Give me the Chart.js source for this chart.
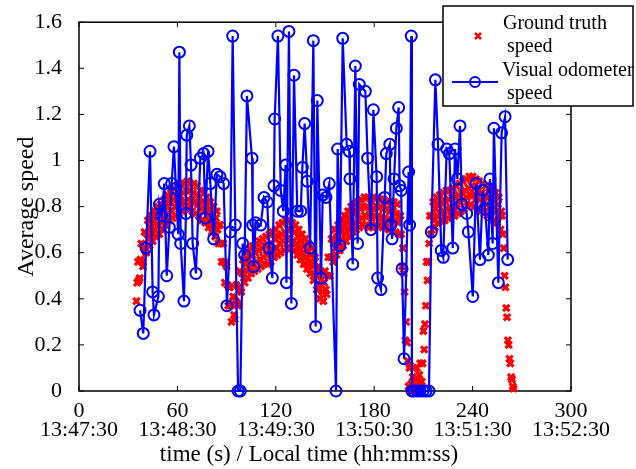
<!DOCTYPE html>
<html>
<head>
<meta charset="utf-8">
<title>Average speed</title>
<script src="https://cdn.jsdelivr.net/npm/chart.js@4.4.1/dist/chart.umd.min.js"></script>
<style>
  body { margin: 0; background: #fff; }
  canvas { display: block; }
</style>
</head>
<body>
<canvas id="speed-chart" width="636" height="469"></canvas>
<script>
// axis ticks
const xTicks = [0, 60, 120, 180, 240, 300];
const xClock = ["13:47:30", "13:48:30", "13:49:30", "13:50:30", "13:51:30", "13:52:30"];
const yTicks = [0, 0.2, 0.4, 0.6, 0.8, 1, 1.2, 1.4, 1.6];

// visual odometer speed (blue, circles)
const odoTime = [37.2, 39.2, 40.9, 43.3, 44.9, 45.7, 48.4, 49.0, 50.4, 52.0,
  53.5, 55.1, 56.5, 57.9, 59.1, 60.5, 61.2, 62.0, 64.0, 65.2,
  65.7, 67.3, 68.3, 69.3, 71.3, 74.0, 76.0, 77.0, 78.7, 80.1,
  82.1, 84.1, 86.0, 88.2, 90.2, 92.3, 93.7, 95.3, 97.0, 98.4,
  99.8, 101.0, 102.4, 105.5, 105.9, 106.5, 107.7, 110.8, 112.8, 114.8,
  115.9, 117.9, 118.9, 119.3, 121.3, 123.0, 124.6, 126.0, 126.5, 128.0,
  129.5, 131.1, 133.1, 135.2, 136.2, 137.6, 139.2, 140.9, 142.9, 144.3,
  145.3, 147.6, 148.6, 150.6, 152.6, 156.7, 157.7, 159.1, 160.8, 163.2,
  164.8, 165.2, 166.9, 168.5, 169.9, 170.9, 174.6, 176.0, 178.0, 179.5,
  181.5, 182.1, 184.1, 186.4, 187.4, 189.5, 190.1, 190.9, 192.1, 193.5,
  194.9, 195.5, 196.5, 197.0, 198.2, 201.0, 201.6, 202.6, 203.0, 204.3,
  206.1, 207.9, 209.8, 211.6, 213.4, 214.8, 217.3, 218.9, 220.9, 222.1,
  224.2, 225.8, 227.9, 229.3, 230.7, 232.3, 233.4, 236.4, 237.4, 240.1,
  242.1, 244.5, 246.2, 247.6, 249.6, 250.6, 252.2, 253.0, 255.7, 257.7,
  259.8, 261.4];
const odoSpeed = [0.35, 0.25, 0.62, 1.04, 0.43, 0.33, 0.41, 0.81, 0.76, 0.90,
  0.50, 0.71, 0.90, 1.06, 0.88, 0.68, 1.47, 0.64, 0.39, 0.77,
  1.11, 1.15, 0.98, 0.64, 0.51, 1.01, 1.03, 0.75, 1.04, 0.90,
  0.66, 0.94, 0.93, 0.90, 0.37, 0.69, 1.54, 0.72, 0, 0,
  0.64, 0.59, 1.28, 1.01, 0.72, 0.54, 0.73, 0.72, 0.84, 0.82,
  0.62, 0.49, 0.89, 1.18, 1.54, 0.87, 0.78, 0.98, 0.47, 1.56,
  0.38, 1.37, 0.78, 0.78, 0.97, 1.16, 0.91, 0.62, 1.52, 0.28,
  1.26, 0.49, 0.85, 0.84, 0.90, 0, 1.05, 0.63, 1.53, 1.07,
  1.04, 0.92, 0.55, 1.41, 0.64, 1.33, 1.30, 1.01, 0.70, 1.22,
  0.93, 0.49, 0.44, 0.84, 1.03, 1.07, 0.72, 0.66, 0.92, 1.14,
  1.23, 0.89, 0.87, 0.53, 0.14, 0.95, 0.72, 1.54, 0, 0,
  0, 0, 0, 0, 0, 0.69, 1.35, 1.07, 0.61, 0.58,
  1.05, 1.03, 0.62, 1.05, 0.92, 1.15, 0.81, 0.77, 0.69, 0.41,
  0.90, 0.57, 0.87, 0.79, 0.59, 0.92, 0.64, 1.14, 0.47, 1.12,
  1.19, 0.57];

// ground truth speed (red crosses), sampled every 0.5 s from t = 35 s
// one row = 5 s
const gtStart = 35;
const gtStep = 0.5;
const gtSpeed = [
  .39, .47, .56, .48, .49, .57, .64, .56, .54, .62,
  .69, .61, .60, .68, .74, .66, .63, .71, .76, .68,
  .65, .73, .78, .70, .67, .75, .80, .72, .68, .76,
  .81, .73, .70, .78, .83, .75, .72, .80, .85, .77,
  .74, .82, .86, .78, .75, .83, .88, .80, .76, .84,
  .89, .81, .77, .85, .90, .82, .78, .86, .90, .82,
  .79, .87, .91, .83, .79, .87, .90, .82, .78, .86,
  .90, .82, .77, .85, .89, .81, .76, .84, .87, .79,
  .74, .82, .86, .78, .73, .81, .84, .76, .71, .79,
  .82, .74, .69, .77, .80, .72, .67, .75, .78, .70,
  .64, .72, .72, .64, .56, .64, .64, .56, .47, .55,
  .54, .46, .37, .45, .45, .37, .30, .38, .41, .33,
  .31, .39, .46, .38, .37, .45, .52, .44, .43, .51,
  .57, .49, .47, .55, .60, .52, .49, .57, .62, .54,
  .51, .59, .63, .55, .52, .60, .64, .56, .53, .61,
  .65, .57, .54, .62, .66, .58, .55, .63, .67, .59,
  .55, .63, .68, .60, .56, .64, .69, .61, .58, .66,
  .70, .62, .59, .67, .72, .64, .60, .68, .73, .65,
  .61, .69, .74, .66, .62, .70, .74, .66, .62, .70,
  .73, .65, .61, .69, .72, .64, .59, .67, .70, .62,
  .57, .65, .68, .60, .55, .63, .66, .58, .53, .61,
  .64, .56, .51, .59, .62, .54, .48, .56, .58, .50,
  .44, .52, .54, .46, .40, .48, .51, .43, .39, .47,
  .52, .44, .42, .50, .58, .50, .50, .58, .66, .58,
  .56, .64, .70, .62, .59, .67, .72, .64, .61, .69,
  .74, .66, .63, .71, .76, .68, .65, .73, .78, .70,
  .67, .75, .80, .72, .69, .77, .81, .73, .70, .78,
  .82, .74, .71, .79, .83, .75, .72, .80, .84, .76,
  .72, .80, .84, .76, .71, .79, .83, .75, .71, .79,
  .84, .76, .72, .80, .84, .76, .72, .80, .83, .75,
  .71, .79, .83, .75, .71, .79, .82, .74, .70, .78,
  .82, .74, .70, .78, .82, .74, .69, .77, .81, .73,
  .68, .76, .76, .68, .54, .62, .51, .43, .22, .30,
  .21, .13, .02, .10, .11, .03, .00, .06, .10, .02,
  .00, .05, .10, .02, .00, .07, .12, .04, .04, .12,
  .26, .18, .29, .37, .56, .48, .56, .64, .76, .68,
  .68, .76, .82, .74, .71, .79, .84, .76, .73, .81,
  .85, .77, .74, .82, .86, .78, .74, .82, .87, .79,
  .75, .83, .87, .79, .76, .84, .88, .80, .76, .84,
  .89, .81, .77, .85, .90, .82, .78, .86, .91, .83,
  .79, .87, .92, .84, .80, .88, .93, .85, .81, .89,
  .93, .85, .80, .88, .92, .84, .79, .87, .91, .83,
  .78, .86, .90, .82, .77, .85, .89, .81, .76, .84,
  .88, .80, .75, .83, .87, .79, .74, .82, .86, .78,
  .73, .81, .84, .76, .70, .78, .76, .68, .62, .50,
  .45, .36, .32, .22, .20, .14, .12, .06, .05, .02,
  .01];

const FONT = "'Liberation Serif', 'Times New Roman', serif";
const X_TITLE = "time (s) / Local time (hh:mm:ss)";

const odoPoints = odoTime.map((t, i) => ({ x: t, y: odoSpeed[i] }));
const gtPoints = gtSpeed.map((v, i) => ({ x: gtStart + i * gtStep, y: v }));

// matlab style box with inward ticks, plus the x title (centred on the figure)
const framePlugin = {
  id: "frame",
  beforeDatasetsDraw(chart) {
    const { ctx, chartArea: a, scales } = chart;
    ctx.save();
    ctx.strokeStyle = "#000";
    ctx.lineWidth = 1.5;
    ctx.strokeRect(a.left, a.top, a.right - a.left, a.bottom - a.top);
    ctx.lineWidth = 1;
    ctx.beginPath();
    xTicks.forEach(v => {
      const px = scales.x.getPixelForValue(v);
      ctx.moveTo(px, a.bottom); ctx.lineTo(px, a.bottom - 5);
      ctx.moveTo(px, a.top); ctx.lineTo(px, a.top + 5);
    });
    yTicks.forEach(v => {
      const py = scales.y.getPixelForValue(v);
      ctx.moveTo(a.left, py); ctx.lineTo(a.left + 5, py);
      ctx.moveTo(a.right, py); ctx.lineTo(a.right - 5, py);
    });
    ctx.stroke();

    ctx.fillStyle = "#000";
    ctx.font = "23px " + FONT;
    ctx.textAlign = "center";
    ctx.textBaseline = "middle";
    ctx.fillText(X_TITLE, 309, 455);
    ctx.restore();
  }
};

const legendPlugin = {
  id: "boxLegend",
  afterDraw(chart) {
    const ctx = chart.ctx;
    ctx.save();
    ctx.fillStyle = "#fff";
    ctx.fillRect(443, 6, 190, 100);
    ctx.strokeStyle = "#000";
    ctx.lineWidth = 1.5;
    ctx.strokeRect(443, 6, 190, 100);

    // red cross
    ctx.strokeStyle = "#ff0000";
    ctx.lineWidth = 2.5;
    ctx.beginPath();
    ctx.moveTo(475, 33); ctx.lineTo(481, 39);
    ctx.moveTo(481, 33); ctx.lineTo(475, 39);
    ctx.stroke();

    // blue line + circle
    ctx.strokeStyle = "#0000ff";
    ctx.lineWidth = 2;
    ctx.beginPath();
    ctx.moveTo(452, 82); ctx.lineTo(498, 82);
    ctx.stroke();
    ctx.beginPath();
    ctx.arc(475, 82, 5, 0, Math.PI * 2);
    ctx.stroke();

    ctx.fillStyle = "#000";
    ctx.font = "20px " + FONT;
    ctx.textBaseline = "middle";
    ctx.fillText("Ground truth", 503, 24);
    ctx.fillText("speed", 507, 47);
    ctx.fillText("Visual odometer", 502, 71);
    ctx.fillText("speed", 507, 94);
    ctx.restore();
  }
};

new Chart(document.getElementById("speed-chart"), {
  type: "scatter",
  data: {
    datasets: [
      {
        label: "Visual odometer speed",
        data: odoPoints,
        showLine: true,
        borderColor: "#0000ff",
        borderWidth: 2.2,
        pointStyle: "circle",
        pointRadius: 5.5,
        pointBorderWidth: 2,
        pointBorderColor: "#0000ff",
        pointBackgroundColor: "rgba(0,0,0,0)",
        clip: 8,
      },
      {
        label: "Ground truth speed",
        data: gtPoints,
        showLine: false,
        pointStyle: "crossRot",
        pointRadius: 4.5,
        pointBorderWidth: 3.2,
        pointBorderColor: "#ff0000",
        pointBackgroundColor: "#ff0000",
        clip: 8,
      },
    ],
  },
  options: {
    responsive: false,
    animation: false,
    events: [],
    layout: { padding: { left: 0, top: 20, right: 65, bottom: 0 } },
    plugins: {
      legend: { display: false },
      tooltip: { enabled: false },
    },
    scales: {
      x: {
        type: "linear",
        min: 0,
        max: 300,
        afterBuildTicks: s => { s.ticks = xTicks.map(v => ({ value: v })); },
        afterFit: s => { s.height = 78; },
        grid: { display: false },
        border: { display: false },
        ticks: {
          color: "#000",
          font: { family: FONT, size: 22, lineHeight: 0.9 },
          padding: 2,
          maxRotation: 0,
          callback: (v, i) => [String(v), xClock[i]],
        },
      },
      y: {
        min: 0,
        max: 1.6,
        afterBuildTicks: s => { s.ticks = yTicks.map(v => ({ value: v })); },
        afterFit: s => { s.width = 79; },
        grid: { display: false },
        border: { display: false },
        ticks: {
          color: "#000",
          font: { family: FONT, size: 22 },
          padding: 9,
          callback: v => String(v),
        },
        title: {
          display: true,
          text: "Average speed",
          color: "#000",
          font: { family: FONT, size: 24, lineHeight: 1.1 },
          padding: { top: 14, bottom: 0 },
        },
      },
    },
  },
  plugins: [framePlugin, legendPlugin],
});
</script>
</body>
</html>
